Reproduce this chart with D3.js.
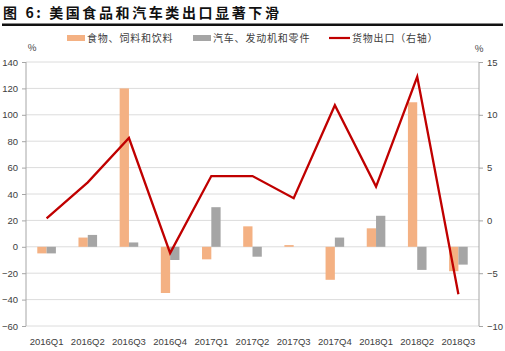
<!DOCTYPE html>
<html>
<head>
<meta charset="utf-8">
<script src="https://cdn.jsdelivr.net/npm/d3@7"></script>
<style>
  body { margin: 0; background: #fff; }
  svg { font-family: "Noto Sans CJK SC", "Noto Sans", sans-serif; }
</style>
</head>
<body>
<svg id="chart" width="505" height="351"></svg>
<script>
let quarters = ["2016Q1", "2016Q2", "2016Q3", "2016Q4", "2017Q1", "2017Q2",
                "2017Q3", "2017Q4", "2018Q1", "2018Q2", "2018Q3"];
let food = [-5, 7, 120, -35, -9.5, 15.5, 1.3, -25, 14, 109.5, -18.5];
let autos = [-5, 9, 3.3, -10, 30, -7.5, 0, 7, 23.5, -17.5, -13.5];
let exportsGrowth = [0.2, 3.6, 7.8, -3.1, 4.2, 4.2, 2.1, 10.9, 3.2, 13.6, -7.0];
let leftTicks = [-60, -40, -20, 0, 20, 40, 60, 80, 100, 120, 140];
let rightTicks = [-10, -5, 0, 5, 10, 15];

let svg = d3.select("#chart");
let margin = {top: 62, right: 26, bottom: 25, left: 26};
let width = 505 - margin.left - margin.right;
let height = 351 - margin.top - margin.bottom;

// title
svg.append("text")
    .attr("x", 3)
    .attr("y", 18)
    .style("font-size", "14px")
    .style("font-weight", "bold")
    .style("letter-spacing", "2.6px")
    .style("fill", "#111")
    .text("图 6: 美国食品和汽车类出口显著下滑");

svg.append("rect")
    .attr("x", 2)
    .attr("y", 23.5)
    .attr("width", 501)
    .attr("height", 2.5)
    .style("fill", "#111");

let g = svg.append("g")
    .attr("transform", `translate(${margin.left}, ${margin.top})`);

let x = d3.scaleBand()
    .domain(quarters)
    .range([0, width]);

let y = d3.scaleLinear()
    .domain([-60, 140])
    .range([height, 0]);

let y2 = d3.scaleLinear()
    .domain([-10, 15])
    .range([height, 0]);

// gridlines
g.selectAll(".grid")
    .data(leftTicks)
    .join("line")
    .attr("x1", 0)
    .attr("x2", width)
    .attr("y1", d => y(d))
    .attr("y2", d => y(d))
    .style("stroke", "#dcdcdc")
    .style("stroke-width", 1);

let barW = 9.3;

g.selectAll(".food")
    .data(food)
    .join("rect")
    .attr("x", (d, i) => x(quarters[i]) + x.bandwidth() / 2 - barW)
    .attr("y", d => y(Math.max(0, d)))
    .attr("width", barW)
    .attr("height", d => Math.abs(y(d) - y(0)))
    .style("fill", "#f4b183");

g.selectAll(".autos")
    .data(autos)
    .join("rect")
    .attr("x", (d, i) => x(quarters[i]) + x.bandwidth() / 2)
    .attr("y", d => y(Math.max(0, d)))
    .attr("width", barW)
    .attr("height", d => Math.abs(y(d) - y(0)))
    .style("fill", "#a5a5a5");

let line = d3.line()
    .x((d, i) => x(quarters[i]) + x.bandwidth() / 2)
    .y(d => y2(d));

g.append("path")
    .datum(exportsGrowth)
    .attr("d", line)
    .style("fill", "none")
    .style("stroke", "#c00000")
    .style("stroke-width", 2.3);

// axes
let leftAxis = g.append("g")
    .call(d3.axisLeft(y).tickValues(leftTicks).tickSize(4).tickPadding(4));

let rightAxis = g.append("g")
    .attr("transform", `translate(${width}, 0)`)
    .call(d3.axisRight(y2).tickValues(rightTicks).tickSize(4).tickPadding(4));

let bottomAxis = g.append("g")
    .attr("transform", `translate(0, ${height})`)
    .call(d3.axisBottom(x).tickSize(0).tickPadding(12));
bottomAxis.select(".domain").remove();

[leftAxis, rightAxis].forEach(a => {
    a.select(".domain").attr("stroke", "#a6a6a6").attr("d", `M0,0V${height}`);
    a.selectAll(".tick line").attr("stroke", "#a6a6a6");
});
[leftAxis, rightAxis, bottomAxis].forEach(a => {
    a.selectAll("text")
        .style("font-family", "Liberation Sans, Arial, sans-serif")
        .style("font-size", "9.5px")
        .style("fill", "#404040");
});

// unit labels
svg.append("text")
    .attr("x", 32)
    .attr("y", 51)
    .attr("text-anchor", "middle")
    .style("font-size", "9.5px")
    .style("fill", "#404040")
    .text("%");

svg.append("text")
    .attr("x", 479)
    .attr("y", 52)
    .attr("text-anchor", "middle")
    .style("font-size", "9.5px")
    .style("fill", "#404040")
    .text("%");

// legend
let legend = [
    {name: "食物、饲料和饮料", color: "#f4b183", type: "rect", x: 67},
    {name: "汽车、发动机和零件", color: "#a5a5a5", type: "rect", x: 193},
    {name: "货物出口（右轴）", color: "#c00000", type: "line", x: 329}
];

let lg = svg.selectAll(".legend")
    .data(legend)
    .join("g")
    .attr("transform", d => `translate(${d.x}, 38)`);

lg.filter(d => d.type === "rect")
    .append("rect")
    .attr("x", 0)
    .attr("y", -3)
    .attr("width", 18)
    .attr("height", 6)
    .style("fill", d => d.color);

lg.filter(d => d.type === "line")
    .append("line")
    .attr("x1", 0)
    .attr("x2", 21)
    .attr("y1", 0)
    .attr("y2", 0)
    .style("stroke", d => d.color)
    .style("stroke-width", 2.2);

lg.append("text")
    .attr("x", d => d.type === "line" ? 23 : 20)
    .attr("y", 0)
    .attr("dy", "0.35em")
    .style("font-size", "10px")
    .style("letter-spacing", "0.8px")
    .style("fill", "#404040")
    .text(d => d.name);
</script>
</body>
</html>
